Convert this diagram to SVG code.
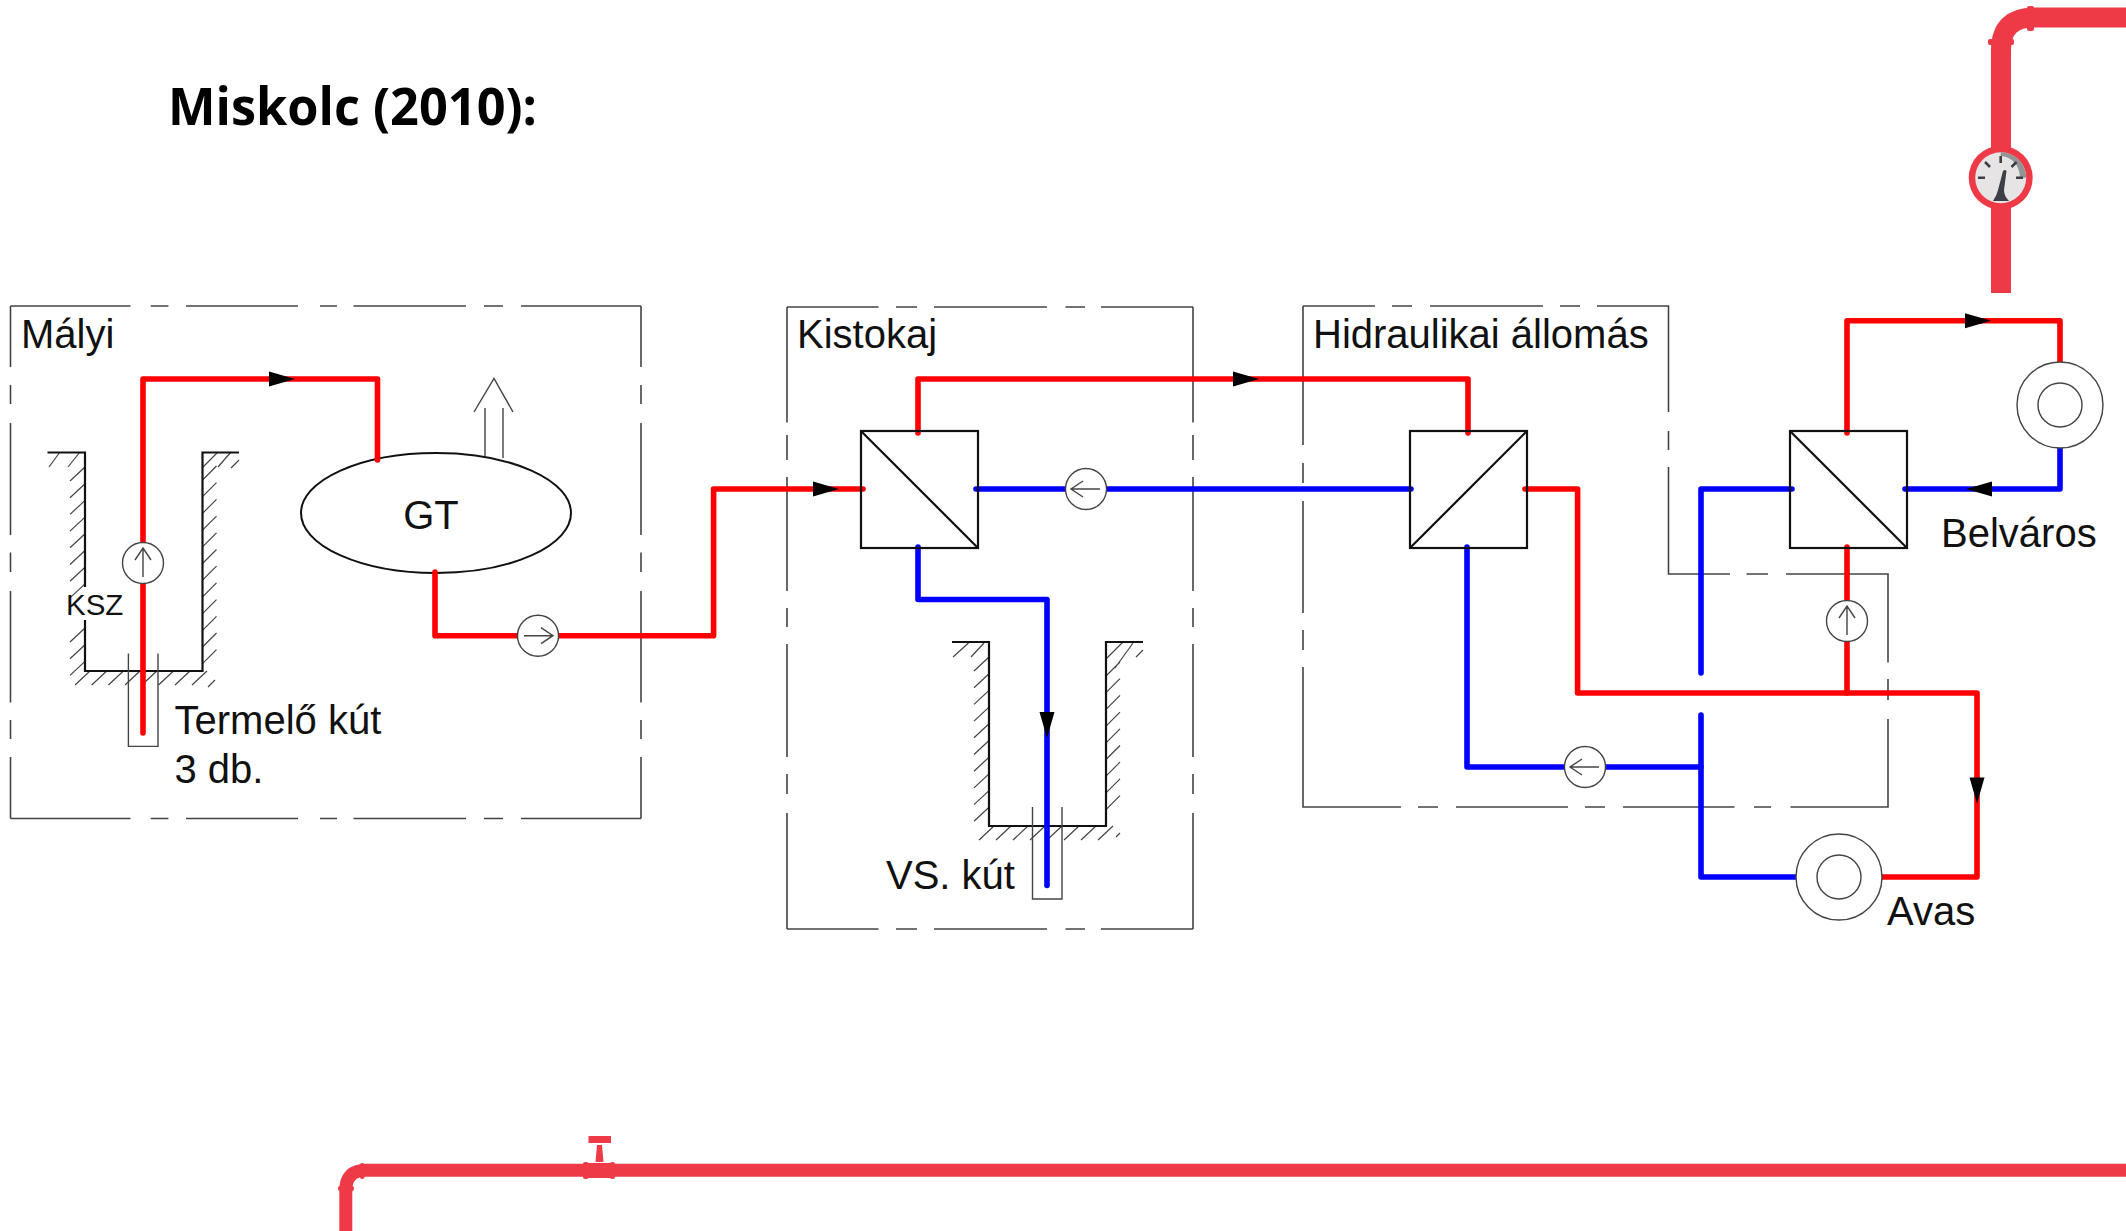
<svg xmlns="http://www.w3.org/2000/svg" width="2126" height="1231" viewBox="0 0 2126 1231">
<style>
.lbl{font-family:"Liberation Sans",Arial,sans-serif;font-size:40px;fill:#111}
.frame{fill:none;stroke:#444;stroke-width:1.6}
.wall{fill:none;stroke:#111;stroke-width:2.2}
.hatch{fill:none;stroke:#444;stroke-width:1.2}
.thin{fill:none;stroke:#444;stroke-width:1.4}
.hx{fill:none;stroke:#111;stroke-width:2.2}
.red{fill:none;stroke:#f00;stroke-width:5.6;stroke-linejoin:round;stroke-linecap:round}
.blue{fill:none;stroke:#00f;stroke-width:5.6;stroke-linejoin:round;stroke-linecap:round}
.sym{fill:#fff;stroke:#444;stroke-width:1.4}
.arrowline{fill:none;stroke:#444;stroke-width:1.4}
.pipe{fill:none;stroke:#ee3a47}
.pipefill{fill:#ee3a47}
</style>
<defs>
<polygon id="ah" points="-26,-7.5 0,0 -26,7.5" fill="#000"/>
<g id="pump"><circle r="20.5" class="sym"/><path class="arrowline" d="M-14 0H15M3 -8L15 0L3 8"/></g>
<g id="ring"><circle r="43" class="sym"/><circle r="22" class="sym"/></g>
</defs>

<text id="title" x="168" y="125" font-family="'Open Sans','Noto Sans',sans-serif" font-weight="700" font-size="52" fill="#000" textLength="369" lengthAdjust="spacingAndGlyphs">Miskolc (2010):</text>

<g id="malyi">
<path class="frame" d="M10.5 306H130.5M150.7 306H168.4M186 306H298M320 306H337M353.5 306H466M484 306H503M521 306H641M10.5 818.5H130.5M150.7 818.5H168.4M186 818.5H298M320 818.5H337M353.5 818.5H466M484 818.5H503M521 818.5H641M10.5 306V367M10.5 385V404M10.5 423V535M10.5 552.5V572M10.5 591V702.5M10.5 720V739M10.5 757V818.5M641 306V367M641 385V404M641 423V535M641 552.5V572M641 591V702.5M641 720V739M641 757V818.5"/>
<text class="lbl" x="21" y="348">Mályi</text>
</g>

<g id="well-termelo">
<path class="hatch" d="M85 467l-15 14m15 2.7l-15 14m15 2.7l-15 14m15 2.7l-15 14m15 2.7l-15 14m15 2.7l-15 14m15 2.7l-15 14m15 2.7l-15 14M85 628l-15 14m15 2.7l-15 14m15 2.7l-15 14M49 467l11 -15M68 467l12 -15"/>
<path class="hatch" d="M202.5 480l14 -14m-14 30.7l14 -14m-14 30.7l14 -14m-14 30.7l14 -14m-14 30.7l14 -14m-14 30.7l14 -14m-14 30.7l14 -14m-14 30.7l14 -14m-14 30.7l14 -14m-14 30.7l14 -14m-14 30.7l14 -14m-14 30.7l14 -14M203 467l15 -15M218 467l13 -15M231 468l8 -8"/>
<path class="hatch" d="M90 671l-15 14M106.700 671l-15 14M123.400 671l-15 14M140 671l-15 14M156.800 671l-15 14M173.500 671l-15 14M190 671l-15 14M207 671l-15 14M215 680l-7 7"/>
<path class="wall" d="M47.500 452.500H85V587M85 620V671H202.500V452.500H239"/>
<path class="thin" d="M128.400 653.600V746.400H158V653.600"/>
<text id="ksz" x="66" y="615" font-family="'Liberation Sans',Arial,sans-serif" font-size="29.500" fill="#111">KSZ</text>
<text class="lbl" x="174.500" y="734">Termelő kút</text>
<text class="lbl" x="174.500" y="783">3 db.</text>
</g>

<g id="gt">
<ellipse cx="436" cy="513" rx="135" ry="60" fill="#fff" stroke="#111" stroke-width="2"/>
<path class="thin" d="M485 456V408M503 458V408M474 412L494 378.500L513 412"/>
<text x="431" y="528.500" font-family="'Liberation Sans',Arial,sans-serif" font-size="40" fill="#111" text-anchor="middle">GT</text>
</g>

<g id="kistokaj">
<path class="frame" d="M787 307H878.500M896 307H917M934 307H1047M1065.500 307H1085M1101 307H1193M787 929H878.500M896 929H917M934 929H1047M1065.500 929H1085M1101 929H1193M787 307V422.600M787 435V460M787 477V591M787 608V627M787 644V757M787 774V794M787 813V929M1193 307V422.600M1193 435V460M1193 477V591M1193 608V627M1193 644V757M1193 774V794M1193 813V929"/>
<text class="lbl" x="797" y="348">Kistokaj</text>
</g>

<g id="well-vs">
<path class="hatch" d="M989 657l-15 14m15 2.7l-15 14m15 2.7l-15 14m15 2.7l-15 14m15 2.7l-15 14m15 2.7l-15 14m15 2.7l-15 14m15 2.7l-15 14m15 2.7l-15 14m15 2.7l-15 14M953 657l15.500 -14M971 657l13 -14"/>
<path class="hatch" d="M1106 676l14 -14m-14 30.7l14 -14m-14 30.7l14 -14m-14 30.7l14 -14m-14 30.7l14 -14m-14 30.7l14 -14m-14 30.7l14 -14m-14 30.7l14 -14m-14 30.7l14 -14M1107 658l15.500 -15.500M1115 668l18 -25M1136 657l7 -7"/>
<path class="hatch" d="M994 826l-15 14M1011 826l-15 14M1028 826l-15 14M1045 826l-15 14M1062 826l-15 14M1079 826l-15 14M1096 826l-15 14M1113 826l-15 14M1120 833l-4 4"/>
<path class="wall" d="M952 642H989V826H1106V642H1143"/>
<path class="thin" d="M1032.500 807V899H1062V807"/>
<text class="lbl" x="886" y="889">VS. kút</text>
</g>

<g id="hidraulikai">
<path class="frame" d="M1303 306H1375M1392 306H1412M1430 306H1543M1560 306H1580M1597 306H1668.500V412M1668.500 431V450M1668.500 467V574H1730M1746.500 574H1768M1786 574H1888V662.500M1888 679V700M1888 719V807H1790.500M1771 807H1754M1734.500 807H1623M1605 807H1585M1568 807H1456M1438 807H1418M1401 807H1303V667M1303 650V630M1303 613V501M1303 483V463M1303 445V306"/>
<text class="lbl" x="1313" y="348">Hidraulikai állomás</text>
</g>

<g id="connectors">
<path class="red" d="M143 542V379H377.500V460"/>
<path class="red" d="M143 583V733"/>
<path class="red" d="M435 572V635.700H517.500M558.500 635.700H713.600V489H863"/>
<path class="red" d="M918 433V379H1468V433"/>
<path class="blue" d="M976 489H1066M1106 489H1411"/>
<path class="blue" d="M918 547V599.500H1047V885.500"/>
<path class="red" d="M1525 489H1577.600V693H1977V877H1881"/>
<path class="blue" d="M1467 547V767H1565M1605 767H1701"/>
<path class="blue" d="M1701 715V877H1796"/>
<path class="blue" d="M1701 673V489H1792"/>
<path class="red" d="M1847 433V320.700H2060V361.500"/>
<path class="blue" d="M2060 448V489H1905"/>
<path class="red" d="M1847 547V601.500M1847 641V693"/>
</g>

<g id="arrowheads">
<use href="#ah" transform="translate(295 379)"/>
<use href="#ah" transform="translate(839 489)"/>
<use href="#ah" transform="translate(1259 379)"/>
<use href="#ah" transform="translate(1047 738) rotate(90)"/>
<use href="#ah" transform="translate(1991 320.700)"/>
<use href="#ah" transform="translate(1966 489) rotate(180)"/>
<use href="#ah" transform="translate(1977 803.500) rotate(90)"/>
</g>

<g id="hx-kistokaj"><rect class="hx" x="861" y="431" width="117" height="117"/><path class="hx" d="M861 431L978 548"/></g>
<g id="hx-hidraulikai"><rect class="hx" x="1410" y="431" width="117" height="117"/><path class="hx" d="M1410 548L1527 431"/></g>
<g id="hx-belvaros"><rect class="hx" x="1790" y="431" width="117" height="117"/><path class="hx" d="M1790 431L1907 548"/></g>

<g id="pumps">
<use href="#pump" transform="translate(143 563) rotate(-90)"/>
<use href="#pump" transform="translate(538 635.700)"/>
<use href="#pump" transform="translate(1086 489) rotate(180)"/>
<use href="#pump" transform="translate(1585 767) rotate(180)"/>
<use href="#pump" transform="translate(1847 621) rotate(-90)"/>
</g>

<g id="belvaros"><use href="#ring" x="2060" y="405"/><text class="lbl" x="1941" y="547">Belváros</text></g>
<g id="avas"><use href="#ring" x="1839" y="877"/><text class="lbl" x="1887" y="925">Avas</text></g>

<g id="pipe-top">
<path class="pipe" stroke-width="20" d="M2001 293V50Q2001 17.500 2034 17.500H2126"/>
<rect class="pipefill" x="1988" y="39" width="26" height="6" rx="2"/>
<rect class="pipefill" x="2027" y="6" width="7" height="25" rx="2"/>
<circle cx="2000.700" cy="177.700" r="32" class="pipefill"/>
<circle cx="2000.700" cy="177.700" r="25.500" fill="#e6e4e4"/>
<path d="M2000.700 152.200A25.500 25.500 0 0 1 2026.200 177.700H2020A19.300 22 0 0 0 2000.700 156Z" fill="#949494"/>
<path d="M1978 177.700H1985M2023 177.700H2016M2000.700 156V163M1985 162L1990 167M2016.500 162L2011.500 167" stroke="#3c3f45" stroke-width="2.600" fill="none"/>
<path d="M1993 201Q1997 195 1998 190L2003 171Q2005 169 2006.500 171L2004 190Q2004 196 2009 201Z" fill="#3c3f45"/>
</g>

<g id="pipe-bottom">
<path class="pipe" stroke-width="13" d="M345.800 1231V1190Q345.800 1170.300 366 1170.300H2126"/>
<rect class="pipefill" x="338" y="1186" width="16" height="5" rx="2"/>
<rect class="pipefill" x="360" y="1163" width="4.500" height="16" rx="2"/>
<rect class="pipefill" x="583" y="1162" width="5.500" height="17" rx="2"/>
<rect class="pipefill" x="610" y="1162" width="5" height="17" rx="2"/>
<rect class="pipefill" x="588" y="1163" width="23" height="15"/>
<path class="pipefill" d="M597 1145H602L603.500 1162H595.500Z"/>
<rect class="pipefill" x="588.500" y="1136" width="22.500" height="7"/>
</g>
</svg>
